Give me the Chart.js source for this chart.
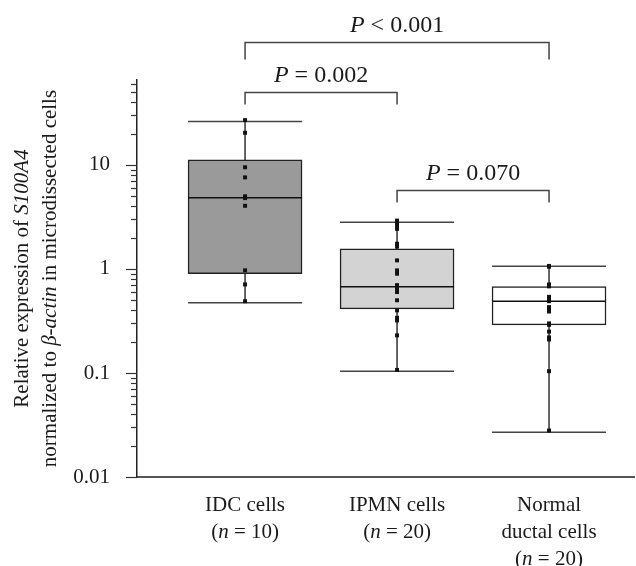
<!DOCTYPE html>
<html lang="en">
<head>
    <meta charset="UTF-8">
    <title>S100A4 expression in microdissected cells</title>
    <script src="https://cdn.jsdelivr.net/npm/chart.js"></script>
    <style>
        html, body {
            margin: 0;
            padding: 0;
            background: #fff;
            overflow: hidden;
        }
        #chartContainer {
            width: 636px;
            height: 566px;
            position: relative;
        }
    </style>
</head>
<body>
    <div id="chartContainer">
        <canvas id="s100Chart" width="636" height="566"></canvas>
    </div>
    <script>
        // groups (x positions 1..3)
        const groupLines = [['IDC cells'], ['IPMN cells'], ['Normal', 'ductal cells']];
        const groupN = [10, 20, 20];
        const boxColors = ['#9a9a9a', '#d3d3d3', '#ffffff'];

        // box plot summary
        const whiskerLow  = [0.474, 0.104, 0.027];
        const q1          = [0.90, 0.414, 0.29];
        const median      = [4.85, 0.674, 0.49];
        const q3          = [11.2, 1.56, 0.676];
        const whiskerHigh = [26.2, 2.82, 1.06];

        // individual samples
        const idcValues = [27, 20.4, 9.5, 7.6, 5.0, 4.8, 4.05, 0.97, 0.71, 0.49];
        const ipmnValues = [2.92, 2.8, 2.62, 2.43, 1.75, 1.64, 1.21, 0.97, 0.90, 0.70,
                            0.68, 0.66, 0.645, 0.60, 0.50, 0.40, 0.34, 0.32, 0.23, 0.107];
        const normalValues = [1.07, 1.05, 0.71, 0.70, 0.69, 0.68, 0.54, 0.52, 0.50, 0.49,
                              0.43, 0.42, 0.39, 0.30, 0.29, 0.25, 0.22, 0.21, 0.104, 0.028];

        const yTicks = [0.01, 0.1, 1, 10];
        const yTickLabels = ['0.01', '0.1', '1', '10'];

        // significance comparisons (group indices) and p-values
        const comparisons = [[0, 2], [0, 1], [1, 2]];
        const pTexts = ['< 0.001', '= 0.002', '= 0.070'];

        const xs = [1, 2, 3];
        const samples = [idcValues, ipmnValues, normalValues];
        const points = samples.flatMap((vals, i) => vals.map(v => ({ x: xs[i], y: v })));

        const FONT = '"Liberation Serif", "Times New Roman", serif';
        const TEXT = '#1a1a1a';

        function drawRuns(ctx, runs, cx, cy, size) {
            let w = 0;
            runs.forEach(r => {
                ctx.font = (r[1] ? 'italic ' : '') + size + 'px ' + FONT;
                w += ctx.measureText(r[0]).width;
            });
            let x = cx - w / 2;
            ctx.textAlign = 'left';
            ctx.textBaseline = 'middle';
            ctx.fillStyle = TEXT;
            runs.forEach(r => {
                ctx.font = (r[1] ? 'italic ' : '') + size + 'px ' + FONT;
                ctx.fillText(r[0], x, cy);
                x += ctx.measureText(r[0]).width;
            });
        }

        const annotations = {
            id: 'annotations',
            afterDraw(chart) {
                const ctx = chart.ctx;
                const xS = chart.scales.x;
                const yS = chart.scales.y;
                const area = chart.chartArea;
                ctx.save();

                // tick marks on the log axis
                ctx.strokeStyle = '#333';
                ctx.lineWidth = 1.2;
                for (let d = 0.01; d < yS.max; d *= 10) {
                    for (let k = 1; k <= 9; k++) {
                        const v = k * d;
                        if (v > yS.max) break;
                        const py = Math.round(yS.getPixelForValue(v)) + 0.5;
                        const len = k === 1 ? 11 : 6;
                        ctx.beginPath();
                        ctx.moveTo(area.left - len, py);
                        ctx.lineTo(area.left, py);
                        ctx.stroke();
                    }
                }

                // y axis title, two lines
                const cy = (area.top + area.bottom) / 2;
                [[22, [['Relative expression of ', false], ['S100A4', true]]],
                 [50, [['normalized to ', false], ['\u03B2-actin', true], [' in microdissected cells', false]]]
                ].forEach(([lx, runs]) => {
                    ctx.save();
                    ctx.translate(lx, cy);
                    ctx.rotate(-Math.PI / 2);
                    drawRuns(ctx, runs, 0, 0, 21);
                    ctx.restore();
                });

                // category labels
                groupLines.forEach((lines, i) => {
                    const px = xS.getPixelForValue(xs[i]);
                    lines.forEach((t, j) => drawRuns(ctx, [[t, false]], px, 505 + 27 * j, 21));
                    drawRuns(ctx, [['(', false], ['n', true], [' = ' + groupN[i] + ')', false]],
                        px, 505 + 27 * lines.length, 21);
                });

                // significance brackets
                const levels = [152, 50, 5.7];
                const legs = [17, 12, 12];
                ctx.strokeStyle = '#444';
                ctx.lineWidth = 1.5;
                comparisons.forEach(([a, b], i) => {
                    const x1 = xS.getPixelForValue(xs[a]);
                    const x2 = xS.getPixelForValue(xs[b]);
                    const py = Math.round(yS.getPixelForValue(levels[i])) + 0.5;
                    ctx.beginPath();
                    ctx.moveTo(x1, py + legs[i]);
                    ctx.lineTo(x1, py);
                    ctx.lineTo(x2, py);
                    ctx.lineTo(x2, py + legs[i]);
                    ctx.stroke();
                    drawRuns(ctx, [['P', true], [' ' + pTexts[i], false]], (x1 + x2) / 2, py - 17, 24);
                });
                ctx.restore();
            }
        };

        const ctx = document.getElementById('s100Chart');
        new Chart(ctx, {
            type: 'bar',
            data: {
                datasets: [
                    {
                        type: 'line',
                        data: xs.flatMap((x, i) => [{ x, y: whiskerLow[i] }, { x, y: whiskerHigh[i] }, { x: x + 0.5, y: null }]),
                        borderColor: '#333',
                        borderWidth: 1.5,
                        pointRadius: 0,
                        spanGaps: false,
                        order: 5
                    },
                    {
                        type: 'scatter',
                        data: xs.flatMap((x, i) => [{ x, y: whiskerLow[i] }, { x, y: whiskerHigh[i] }]),
                        pointStyle: 'line',
                        pointRadius: 57,
                        pointBorderColor: '#444',
                        pointBorderWidth: 1.5,
                        order: 4
                    },
                    {
                        type: 'bar',
                        data: xs.map((x, i) => ({ x, y: [q1[i], q3[i]] })),
                        backgroundColor: boxColors,
                        borderColor: '#222',
                        borderWidth: 1.5,
                        borderSkipped: false,
                        barThickness: 114,
                        order: 3
                    },
                    {
                        type: 'scatter',
                        data: xs.map((x, i) => ({ x, y: median[i] })),
                        pointStyle: 'line',
                        pointRadius: 57,
                        pointBorderColor: '#111',
                        pointBorderWidth: 1.5,
                        order: 2
                    },
                    {
                        type: 'scatter',
                        data: points,
                        pointStyle: 'rect',
                        pointRadius: 2.8,
                        pointBackgroundColor: '#111',
                        pointBorderWidth: 0,
                        order: 1
                    }
                ]
            },
            options: {
                responsive: false,
                animation: false,
                layout: { autoPadding: false, padding: { top: 80, right: 2, left: 0, bottom: 0 } },
                plugins: {
                    legend: { display: false },
                    tooltip: { enabled: false }
                },
                scales: {
                    x: {
                        type: 'linear',
                        offset: false,
                        min: 0.289,
                        max: 3.559,
                        grid: { display: false, drawTicks: false },
                        border: { color: '#555', width: 2 },
                        ticks: { display: false },
                        afterFit: s => { s.height = 89; }
                    },
                    y: {
                        type: 'logarithmic',
                        min: 0.01,
                        max: 65.6,
                        grid: { display: false, drawTicks: false },
                        border: { color: '#222', width: 1.5 },
                        afterBuildTicks: s => { s.ticks = yTicks.map(v => ({ value: v })); },
                        ticks: {
                            callback: (v, i) => yTickLabels[i],
                            font: { family: FONT, size: 21 },
                            color: TEXT,
                            padding: 27
                        },
                        afterFit: s => { s.width = 137; }
                    }
                }
            },
            plugins: [annotations]
        });
    </script>
</body>
</html>
